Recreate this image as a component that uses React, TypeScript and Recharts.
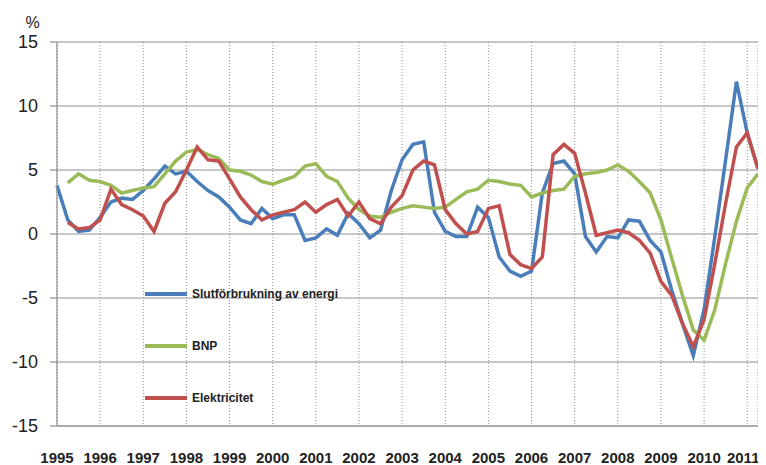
import { CartesianGrid, Legend, Line, LineChart, XAxis, YAxis } from 'recharts'

// quarterly change, %, 1995 Q1 .. 2011 Q2
const energi = [
    3.8, 1.1, 0.2, 0.3, 1.3, 2.5, 2.8, 2.7, 3.4, 4.3, 5.3, 4.7, 4.9, 4.1, 3.4, 2.9,
    2.1, 1.1, 0.8, 2.0, 1.2, 1.5, 1.5, -0.5, -0.3, 0.4, -0.1, 1.6, 0.8, -0.3, 0.3, 3.4,
    5.8, 7.0, 7.2, 1.7, 0.2, -0.2, -0.2, 2.1, 1.3, -1.8, -2.9, -3.3, -2.9, 3.2, 5.5, 5.7,
    4.7, -0.2, -1.4, -0.2, -0.3, 1.1, 1.0, -0.5, -1.4, -4.4, -7.0, -9.5, -5.9, -0.2, 5.8, 11.9,
    7.9, 5.1,
]
const bnp = [
    null, 4.0, 4.7, 4.2, 4.1, 3.8, 3.2, 3.4, 3.6, 3.7, 4.7, 5.7, 6.4, 6.6, 6.2, 5.9,
    5.0, 4.9, 4.6, 4.1, 3.9, 4.2, 4.5, 5.3, 5.5, 4.5, 4.1, 2.8, 1.9, 1.4, 1.3, 1.7,
    2.0, 2.2, 2.1, 2.0, 2.1, 2.7, 3.3, 3.5, 4.2, 4.1, 3.9, 3.8, 2.9, 3.2, 3.4, 3.5,
    4.5, 4.7, 4.8, 5.0, 5.4, 4.9, 4.1, 3.2, 1.1, -1.9, -4.8, -7.5, -8.3, -5.9, -2.3, 1.0,
    3.6, 4.7,
]
const elektricitet = [
    null, 0.9, 0.4, 0.5, 1.1, 3.5, 2.3, 1.9, 1.4, 0.2, 2.4, 3.3, 5.0, 6.8, 5.8, 5.7,
    4.3, 2.9, 1.9, 1.1, 1.5, 1.7, 1.9, 2.5, 1.7, 2.3, 2.7, 1.4, 2.5, 1.2, 0.8, 2.1,
    3.0, 5.0, 5.7, 5.4, 1.9, 0.8, 0.0, 0.2, 2.0, 2.2, -1.6, -2.4, -2.7, -1.8, 6.2, 7.0,
    6.3, 3.2, -0.1, 0.1, 0.3, 0.1, -0.5, -1.5, -3.7, -4.8, -7.0, -8.8, -6.7, -2.3, 2.4, 6.8,
    7.9, 5.1,
]
const years = [
    1995, 1996, 1997, 1998, 1999, 2000, 2001, 2002, 2003, 2004, 2005, 2006, 2007, 2008,
    2009, 2010, 2011,
]
const yTicks = [-15, -10, -5, 0, 5, 10, 15]

const series = [
    { key: 'energi', name: 'Slutförbrukning av energi', color: '#4a7ebb' },
    { key: 'bnp', name: 'BNP', color: '#9bbb59' },
    { key: 'el', name: 'Elektricitet', color: '#c0504d' },
]

const data = energi.map((v, i) => ({
    q: i,
    energi: v,
    bnp: bnp[i],
    el: elektricitet[i],
}))

const GRID = '#8f8f8f'
const lastTick = (years.length - 1) * 4

const YearTick = (props: any) => {
    const { x, y, payload } = props
    // last label is pulled in a little so it fits, like in excel
    const dx = payload.value === lastTick ? -4 : 0
    return (
        <text
            x={x + dx}
            y={y}
            dy="0.71em"
            textAnchor="middle"
            fill="#222"
            fontSize={15}
            fontWeight="bold"
            fontFamily="Liberation Sans, Arial, sans-serif"
        >
            {years[payload.value / 4]}
        </text>
    )
}

const LegendBox = () => (
    <div>
        {series.map((s) => (
            <div
                key={s.key}
                style={{ display: 'flex', alignItems: 'center', height: 52 }}
            >
                <span
                    style={{
                        display: 'inline-block',
                        width: 42,
                        height: 4,
                        background: s.color,
                        marginRight: 5,
                    }}
                />
                <span
                    style={{
                        fontFamily: 'Liberation Sans, Arial, sans-serif',
                        fontWeight: 'bold',
                        fontSize: 12,
                        color: '#222',
                    }}
                >
                    {s.name}
                </span>
            </div>
        ))}
    </div>
)

const App = () => {
    return (
        <LineChart
            width={750}
            height={457}
            data={data}
            margin={{ top: 34, right: 0, left: 0, bottom: 9 }}
        >
            <CartesianGrid vertical={false} stroke={GRID} strokeWidth={1.2} />
            <CartesianGrid horizontal={false} stroke={GRID} strokeDasharray="1 2" />
            <XAxis
                type="number"
                dataKey="q"
                domain={[0, 65]}
                ticks={years.map((_, k) => k * 4)}
                interval={0}
                height={30}
                tickLine={false}
                tickSize={0}
                tickMargin={26}
                axisLine={{ stroke: GRID, strokeWidth: 1.2 }}
                tick={<YearTick />}
            />
            <YAxis
                domain={[-15, 15]}
                ticks={yTicks}
                interval={0}
                width={49}
                tickSize={7}
                tickMargin={12}
                tickLine={{ stroke: GRID, strokeWidth: 1.2 }}
                axisLine={{ stroke: GRID, strokeWidth: 1.2 }}
                tick={{
                    fill: '#222',
                    fontSize: 18,
                    fontFamily: 'Liberation Sans, Arial, sans-serif',
                }}
                label={{
                    value: '%',
                    position: 'top',
                    offset: 14,
                    fill: '#222',
                    fontSize: 16,
                    fontFamily: 'Liberation Sans, Arial, sans-serif',
                }}
            />
            <Legend
                layout="horizontal"
                verticalAlign="middle"
                align="center"
                content={<LegendBox />}
                wrapperStyle={{ left: 137, top: 260, width: 'auto', height: 'auto' }}
            />
            {series.map((s) => (
                <Line
                    key={s.key}
                    type="linear"
                    dataKey={s.key}
                    name={s.name}
                    stroke={s.color}
                    strokeWidth={3.5}
                    dot={false}
                    isAnimationActive={false}
                />
            ))}
        </LineChart>
    )
}

export default App
